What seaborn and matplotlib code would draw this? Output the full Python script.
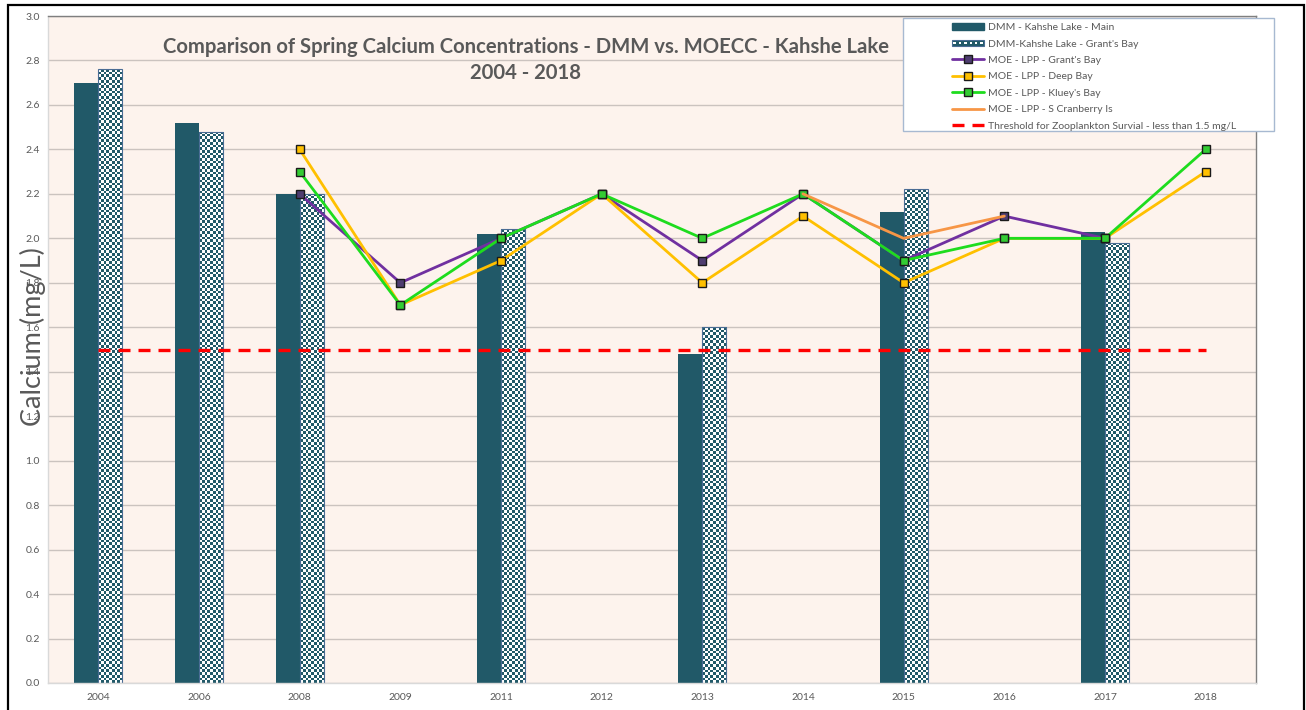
import numpy as np
import pandas as pd
import matplotlib
matplotlib.use("Agg")
import matplotlib.pyplot as plt
import seaborn as sns
from matplotlib.patches import Rectangle, Patch
from matplotlib.lines import Line2D
from matplotlib.legend_handler import HandlerBase
from matplotlib.colors import ListedColormap

# ---------------- data ----------------
years = ["2004", "2006", "2008", "2009", "2011", "2012", "2013", "2014",
         "2015", "2016", "2017", "2018"]
nan = np.nan
dmm_main = [2.70, 2.52, 2.20, nan, 2.02, nan, 1.48, nan, 2.12, nan, 2.03, nan]
dmm_grants = [2.76, 2.48, 2.20, nan, 2.04, nan, 1.60, nan, 2.22, nan, 1.98, nan]
moe_grants = [nan, nan, 2.2, 1.8, 2.0, 2.2, 1.9, 2.2, 1.9, 2.1, 2.0, nan]
moe_deep = [nan, nan, 2.4, 1.7, 1.9, 2.2, 1.8, 2.1, 1.8, 2.0, 2.0, 2.3]
moe_kluey = [nan, nan, 2.3, 1.7, 2.0, 2.2, 2.0, 2.2, 1.9, 2.0, 2.0, 2.4]
moe_cranberry = [nan, nan, nan, nan, nan, nan, nan, 2.2, 2.0, 2.1, nan, nan]
threshold = 1.5

bar_names = ["DMM - Kahshe Lake - Main", "DMM-Kahshe Lake - Grant's Bay"]
line_names = ["MOE - LPP - Grant's Bay", "MOE - LPP - Deep Bay",
              "MOE - LPP - Kluey's Bay", "MOE - LPP - S Cranberry Is"]
threshold_name = "Threshold for Zooplankton Survial - less than 1.5 mg/L"
title_text = ("Comparison of Spring Calcium Concentrations - DMM vs. MOECC - Kahshe Lake\n"
              "2004 - 2018")
y_label = "Calcium (mg/L)"
y_ticks = [0.0, 0.2, 0.4, 0.6, 0.8, 1.0, 1.2, 1.4, 1.6, 1.8, 2.0, 2.2, 2.4, 2.6, 2.8, 3.0]

# ---------------- style ----------------
TEAL = "#215968"
BAR_EDGE = "#4A6C94"
GRAY_TXT = "#595959"
BG = "#FDF3ED"
line_colors = ["#7030A0", "#FFC000", "#1EDC1E", "#F79646"]
marker_faces = ["#4E3D70", "#FFC000", "#33CC33", None]

sns.set_style("white")
plt.rcParams["font.family"] = ["Lato", "DejaVu Sans"]

W, H = 1306, 710
fig = plt.figure(figsize=(W / 100, H / 100), dpi=100)
fig.patch.set_facecolor("white")
ax = fig.add_axes([48 / W, 27 / H, 1208 / W, 667 / H])
ax.set_facecolor(BG)

# ---------------- bars ----------------
df = pd.DataFrame({
    "Year": years * 2,
    "Calcium": dmm_main + dmm_grants,
    "Series": [bar_names[0]] * len(years) + [bar_names[1]] * len(years),
})
sns.barplot(data=df, x="Year", y="Calcium", hue="Series", order=years,
            hue_order=bar_names, palette=[TEAL, TEAL], width=0.48,
            dodge=True, saturation=1, errorbar=None, legend=False, ax=ax)

ax.set_xlim(-0.5, len(years) - 0.5)
ax.set_ylim(0, 3.0)

# checkerboard fill for Grant's Bay bars
px_per_x = ax.transData.transform((1, 0))[0] - ax.transData.transform((0, 0))[0]
px_per_y = ax.transData.transform((0, 1))[1] - ax.transData.transform((0, 0))[1]
cell_px = 2.7
checker_cmap = ListedColormap(["white", TEAL])
for p in list(ax.patches):
    x0 = p.get_x()
    w = p.get_width()
    h = p.get_height()
    if not np.isfinite(h) or h <= 0:
        continue
    cx = x0 + w / 2
    p.set_linewidth(0)
    p.set_zorder(2)
    if cx - round(cx) > 0:  # right-hand (Grant's Bay) bar
        ncol = max(1, int(round(w * px_per_x / cell_px)))
        nrow = max(1, int(round(h * px_per_y / cell_px)))
        ii, jj = np.indices((nrow, ncol))
        arr = ((ii + jj) % 2).astype(float)
        p.set_facecolor("none")
        p.set_edgecolor(BAR_EDGE)
        p.set_linewidth(0.8)
        p.set_zorder(2.2)
        im = ax.imshow(arr, extent=(x0, x0 + w, 0, h), origin="lower",
                       cmap=checker_cmap, vmin=0, vmax=1,
                       interpolation="nearest", aspect="auto", zorder=2.1)
        im.set_clip_path(p)

# ---------------- lines ----------------
xpos = np.arange(len(years))
series_vals = [moe_grants, moe_deep, moe_kluey, moe_cranberry]
for k, (vals, col, mf) in enumerate(zip(series_vals, line_colors, marker_faces)):
    v = np.array(vals, dtype=float)
    m = np.isfinite(v)
    kws = dict(color=col, linewidth=2.0, zorder=4 + k * 0.1)
    if mf is not None:
        kws.update(marker="s", markersize=6, markerfacecolor=mf,
                   markeredgecolor="#1A1A1A", markeredgewidth=1.0)
    sns.lineplot(x=xpos[m], y=v[m], ax=ax, **kws)

# threshold
sns.lineplot(x=[xpos[0], xpos[-1]], y=[threshold, threshold], ax=ax,
             color="#FF0000", linewidth=2.4, dashes=False, zorder=3.5)
ax.lines[-1].set_dashes((3.6, 2.4))

ax.set_xlim(-0.5, len(years) - 0.5)
ax.set_ylim(0, 3.0)

# ---------------- axes styling ----------------
ax.set_yticks(y_ticks)
ax.set_yticklabels([f"{t:.1f}" for t in y_ticks])
ax.set_xticks(xpos)
ax.set_xticklabels(years)
ax.tick_params(axis="both", length=0, labelsize=7.5, labelcolor=GRAY_TXT)
ax.tick_params(axis="y", pad=6)
ax.tick_params(axis="x", pad=7)
ax.set_axisbelow(True)
ax.yaxis.grid(True, color="#CBC3BF", linewidth=1.0)
ax.xaxis.grid(False)
for side in ["left", "bottom"]:
    ax.spines[side].set_color("#D9D9D9")
    ax.spines[side].set_linewidth(1.0)
for side in ["top", "right"]:
    ax.spines[side].set_color("#7F7F7F")
    ax.spines[side].set_linewidth(1.0)

ax.set_xlabel("")
ax.set_ylabel(y_label, fontsize=19.5, color=GRAY_TXT)
ax.yaxis.set_label_coords(-0.0015, 0.52)

fig.text(526 / W, 1 - 60 / H, title_text, ha="center", va="center",
         fontsize=14.6, fontweight="bold", color=GRAY_TXT, linespacing=1.38)

# ---------------- legend ----------------
class CheckerHandler(HandlerBase):
    def create_artists(self, legend, orig_handle, xdescent, ydescent,
                       width, height, fontsize, trans):
        hh = height * 0.75
        y0 = -ydescent + (height - hh) / 2
        x0 = -xdescent
        arts = [Rectangle((x0, y0), width, hh, facecolor=TEAL,
                          edgecolor=BAR_EDGE, linewidth=0.8, transform=trans)]
        n = 6
        sq = hh * 0.45
        step = width / n
        for i in range(n):
            arts.append(Rectangle((x0 + step * (i + 0.5) - sq / 2, y0 + (hh - sq) / 2),
                                  sq, sq, facecolor="white", edgecolor="none",
                                  transform=trans))
        return arts


class CheckerKey:
    pass


handles = [Patch(facecolor=TEAL, edgecolor=TEAL), CheckerKey()]
for col, mf in zip(line_colors, marker_faces):
    if mf is not None:
        handles.append(Line2D([], [], color=col, linewidth=2.0, marker="s",
                              markersize=5.5, markerfacecolor=mf,
                              markeredgecolor="#1A1A1A", markeredgewidth=1.0))
    else:
        handles.append(Line2D([], [], color=col, linewidth=2.0))
handles.append(Line2D([], [], color="#FF0000", linewidth=2.4, dashes=(3.6, 2.4)))
labels = bar_names + line_names + [threshold_name]

box = Rectangle((903 / W, 1 - 131 / H), 371 / W, 113 / H, transform=fig.transFigure,
                facecolor="white", edgecolor="#A7B9D1", linewidth=1.0, zorder=5)
fig.patches.append(box)

leg = fig.legend(handles, labels, loc="upper left",
                 bbox_to_anchor=(952 / W, 1 - 23 / H), frameon=False,
                 fontsize=7.5, handlelength=3.1, handletextpad=0.4,
                 labelspacing=0.68, borderpad=0, borderaxespad=0,
                 handler_map={CheckerKey: CheckerHandler()})
leg.set_zorder(6)
for t in leg.get_texts():
    t.set_color(GRAY_TXT)

# ---------------- outer frame ----------------
frame = Rectangle((8 / W, -0.05), (1304 - 8) / W, 1.05 - 5 / H,
                  transform=fig.transFigure, facecolor="none",
                  edgecolor="black", linewidth=1.6, zorder=10)
fig.patches.append(frame)

fig.savefig("out.png", dpi=100, facecolor="white")
